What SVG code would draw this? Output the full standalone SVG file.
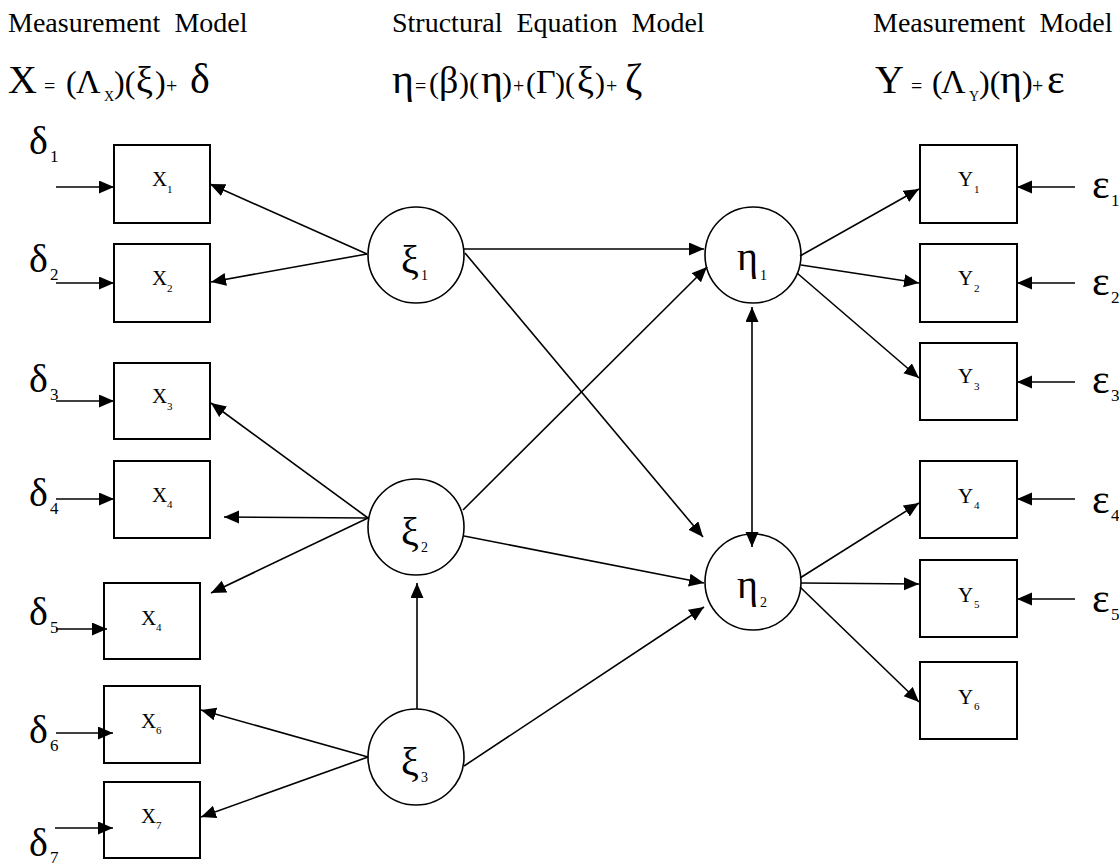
<svg xmlns="http://www.w3.org/2000/svg" width="1119" height="867" viewBox="0 0 1119 867">
<style>
text{font-family:"Liberation Serif","DejaVu Serif","Times New Roman",serif;fill:#000}
.title{font-size:28px}
.box{fill:#fff;stroke:#000;stroke-width:2}
.circ{fill:#fff;stroke:#000;stroke-width:1.6}
.lbl{font-size:21px}
.sub{font-size:11px}
.gk{font-size:40px}
.gsub{font-size:14px}
.err{font-size:42px}
.esub{font-size:17px}
#connectors line{stroke:#000;stroke-width:1.6;fill:none;marker-end:url(#ah)}
</style>
<defs>
<marker id="ah" markerUnits="userSpaceOnUse" markerWidth="16" markerHeight="14" refX="15" refY="6.5" orient="auto-start-reverse">
<path d="M0,0 L15,6.5 L0,13 z" fill="#000"/>
</marker>
</defs>
<rect width="1119" height="867" fill="#fff"/>

<g id="headers">
<text class="title" x="8" y="32" xml:space="preserve">Measurement  Model</text>
<text class="title" x="392" y="32" xml:space="preserve">Structural  Equation  Model</text>
<text class="title" x="873" y="32" xml:space="preserve">Measurement  Model</text>
<text y="93"><tspan x="8" font-size="40">X</tspan><tspan x="44" font-size="20">=</tspan><tspan x="66" font-size="32">(</tspan><tspan x="76" font-size="34">Λ</tspan><tspan x="104" y="101" font-size="14">X</tspan><tspan x="114" y="93" font-size="32">)(</tspan><tspan x="136" font-size="38">ξ</tspan><tspan x="155" font-size="32">)</tspan><tspan x="166" font-size="20">+</tspan><tspan x="190" font-size="42">δ</tspan></text>
<text y="93"><tspan x="392" font-size="42">η</tspan><tspan x="415" font-size="20">=</tspan><tspan x="429" font-size="30">(</tspan><tspan x="439" font-size="38">β</tspan><tspan x="459" font-size="30">)(</tspan><tspan x="481" font-size="42">η</tspan><tspan x="502" font-size="30">)</tspan><tspan x="513" font-size="20">+</tspan><tspan x="526" font-size="30">(</tspan><tspan x="536" font-size="34">Γ</tspan><tspan x="555" font-size="30">)(</tspan><tspan x="577" font-size="38">ξ</tspan><tspan x="595" font-size="30">)</tspan><tspan x="606" font-size="20">+</tspan><tspan x="625" font-size="42">ζ</tspan></text>
<text y="93"><tspan x="875" font-size="40">Y</tspan><tspan x="911" font-size="20">=</tspan><tspan x="932" font-size="32">(</tspan><tspan x="941" font-size="34">Λ</tspan><tspan x="969" y="101" font-size="14">Y</tspan><tspan x="979" y="93" font-size="32">)(</tspan><tspan x="1000" font-size="42">η</tspan><tspan x="1022" font-size="32">)</tspan><tspan x="1032" font-size="20">+</tspan><tspan x="1047" font-size="42">ε</tspan></text>
</g>

<g id="d1"><text class="gk" x="29" y="154">δ</text><text class="esub" x="50" y="162">1</text></g>
<g id="d2"><text class="gk" x="29" y="272">δ</text><text class="esub" x="50" y="280">2</text></g>
<g id="d3"><text class="gk" x="29" y="392">δ</text><text class="esub" x="50" y="400">3</text></g>
<g id="d4"><text class="gk" x="29" y="506">δ</text><text class="esub" x="50" y="514">4</text></g>
<g id="d5"><text class="gk" x="29" y="625">δ</text><text class="esub" x="50" y="633">5</text></g>
<g id="d6"><text class="gk" x="29" y="743">δ</text><text class="esub" x="50" y="751">6</text></g>
<g id="d7"><text class="gk" x="29" y="856">δ</text><text class="esub" x="50" y="863">7</text></g>

<g id="X1"><rect class="box" x="114" y="145" width="96" height="78"/><text class="lbl" x="152" y="186">X</text><text class="sub" x="167" y="193">1</text></g>
<g id="X2"><rect class="box" x="114" y="244" width="96" height="78"/><text class="lbl" x="152" y="285">X</text><text class="sub" x="167" y="292">2</text></g>
<g id="X3"><rect class="box" x="114" y="363" width="96" height="76"/><text class="lbl" x="152" y="403">X</text><text class="sub" x="167" y="410">3</text></g>
<g id="X4"><rect class="box" x="114" y="461" width="96" height="77"/><text class="lbl" x="152" y="502">X</text><text class="sub" x="167" y="508">4</text></g>
<g id="X5"><rect class="box" x="104" y="583" width="96" height="76"/><text class="lbl" x="141" y="625">X</text><text class="sub" x="156" y="631">4</text></g>
<g id="X6"><rect class="box" x="104" y="686" width="96" height="77"/><text class="lbl" x="141" y="728">X</text><text class="sub" x="156" y="734">6</text></g>
<g id="X7"><rect class="box" x="104" y="782" width="96" height="76"/><text class="lbl" x="141" y="823">X</text><text class="sub" x="156" y="829">7</text></g>

<g id="xi1"><circle class="circ" cx="416" cy="255" r="48"/><text class="gk" x="401" y="273">ξ</text><text class="gsub" x="421" y="280">1</text></g>
<g id="xi2"><circle class="circ" cx="416" cy="527" r="48"/><text class="gk" x="401" y="545">ξ</text><text class="gsub" x="421" y="552">2</text></g>
<g id="xi3"><circle class="circ" cx="416" cy="757" r="48"/><text class="gk" x="401" y="775">ξ</text><text class="gsub" x="421" y="782">3</text></g>
<g id="eta1"><circle class="circ" cx="753" cy="255" r="48"/><text class="gk" x="737" y="270">η</text><text class="gsub" x="760" y="280">1</text></g>
<g id="eta2"><circle class="circ" cx="753" cy="582" r="48"/><text class="gk" x="737" y="598">η</text><text class="gsub" x="760" y="607">2</text></g>

<g id="Y1"><rect class="box" x="920" y="145" width="97" height="78"/><text class="lbl" x="958" y="186">Y</text><text class="sub" x="974" y="193">1</text></g>
<g id="Y2"><rect class="box" x="920" y="244" width="97" height="78"/><text class="lbl" x="958" y="285">Y</text><text class="sub" x="974" y="292">2</text></g>
<g id="Y3"><rect class="box" x="920" y="343" width="97" height="77"/><text class="lbl" x="958" y="383">Y</text><text class="sub" x="974" y="390">3</text></g>
<g id="Y4"><rect class="box" x="920" y="461" width="97" height="77"/><text class="lbl" x="958" y="503">Y</text><text class="sub" x="974" y="509">4</text></g>
<g id="Y5"><rect class="box" x="920" y="560" width="97" height="77"/><text class="lbl" x="958" y="602">Y</text><text class="sub" x="974" y="608">5</text></g>
<g id="Y6"><rect class="box" x="920" y="662" width="97" height="77"/><text class="lbl" x="958" y="704">Y</text><text class="sub" x="974" y="710">6</text></g>

<g id="e1"><text class="err" x="1092" y="198">ε</text><text class="esub" x="1111" y="206">1</text></g>
<g id="e2"><text class="err" x="1092" y="295">ε</text><text class="esub" x="1111" y="303">2</text></g>
<g id="e3"><text class="err" x="1092" y="393">ε</text><text class="esub" x="1111" y="401">3</text></g>
<g id="e4"><text class="err" x="1092" y="513">ε</text><text class="esub" x="1111" y="521">4</text></g>
<g id="e5"><text class="err" x="1092" y="612">ε</text><text class="esub" x="1111" y="620">5</text></g>

<g id="connectors">
<line x1="56" y1="187" x2="114" y2="187"/>
<line x1="56" y1="283" x2="114" y2="283"/>
<line x1="56" y1="401" x2="114" y2="401"/>
<line x1="56" y1="499" x2="114" y2="499"/>
<line x1="56" y1="629" x2="107" y2="629"/>
<line x1="56" y1="733" x2="113" y2="733"/>
<line x1="55" y1="828" x2="113" y2="828"/>
<line x1="367" y1="254" x2="210" y2="184"/>
<line x1="367" y1="254" x2="211" y2="282"/>
<line x1="368" y1="518" x2="211" y2="403"/>
<line x1="368" y1="518" x2="224" y2="517"/>
<line x1="368" y1="518" x2="211" y2="593"/>
<line x1="368" y1="757" x2="201" y2="710"/>
<line x1="368" y1="757" x2="201" y2="817"/>
<line x1="417" y1="709" x2="417" y2="583"/>
<line x1="464" y1="249" x2="704" y2="249"/>
<line x1="465" y1="253" x2="703" y2="537"/>
<line x1="463" y1="510" x2="707" y2="267"/>
<line x1="464" y1="536" x2="704" y2="583"/>
<line x1="464" y1="766" x2="704" y2="607"/>
<line x1="752" y1="307" x2="752" y2="547" marker-start="url(#ah)"/>
<line x1="800" y1="256" x2="919" y2="189"/>
<line x1="801" y1="265" x2="919" y2="283"/>
<line x1="797" y1="273" x2="919" y2="378"/>
<line x1="800" y1="578" x2="919" y2="503"/>
<line x1="801" y1="583" x2="919" y2="584"/>
<line x1="800" y1="587" x2="919" y2="702"/>
<line x1="1075" y1="187" x2="1017" y2="187"/>
<line x1="1075" y1="283" x2="1017" y2="283"/>
<line x1="1075" y1="382" x2="1017" y2="382"/>
<line x1="1075" y1="499" x2="1017" y2="499"/>
<line x1="1075" y1="599" x2="1017" y2="599"/>
</g>
</svg>
